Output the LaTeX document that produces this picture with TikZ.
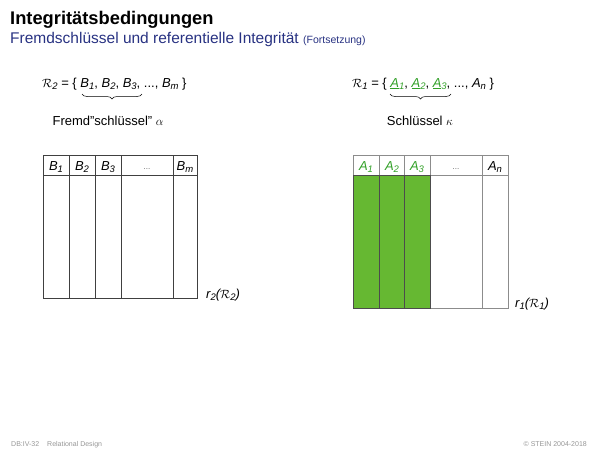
\documentclass[tikz,border=0pt]{standalone}
\usepackage{fontspec}
\setmainfont{Liberation Sans}
\usetikzlibrary{decorations.pathreplacing}
\definecolor{titleblue}{RGB}{40,50,130}
\definecolor{keyfill}{RGB}{102,184,50}
\definecolor{keytext}{RGB}{50,160,40}
\definecolor{footgray}{RGB}{150,150,150}
\newcommand\mysub[1]{\raisebox{-0.3ex}{\fontsize{9.5}{9.5}\selectfont\itshape #1}}
\newcommand\va[2]{{\itshape #1}\mysub{#2}}
\newcommand\ua[2]{\textcolor{keytext}{\underline{\itshape #1}\mysub{#2}}}
\begin{document}
\begin{tikzpicture}[x=1pt,y=-1pt,
  txt/.style={inner sep=0pt,anchor=base west,font=\fontsize{13}{15}\selectfont},
  hdr/.style={inner sep=0pt,anchor=base,font=\fontsize{13}{15}\selectfont},
  grid/.style={line width=0.7pt,draw=black!75},
  ggrid/.style={line width=0.8pt,draw=black!45},
  brc/.style={decorate,decoration={brace,mirror,amplitude=5pt},line width=0.5pt}]
\useasboundingbox (0,0) rectangle (600,450);
% titles
\node[inner sep=0pt,anchor=base west,font=\bfseries\fontsize{18.3}{21}\selectfont] (title) at (10,24.5) {Integritätsbedingungen};
\node[inner sep=0pt,anchor=base west,font=\fontsize{15.5}{18}\selectfont,text=titleblue] (sub) at (10,43) {Fremdschlüssel und referentielle Integrität {\fontsize{10.5}{12}\selectfont(Fortsetzung)}};
% left formula
\node[txt] (f2) at (42,87) {$\mathcal{R}$\mysub{2} = \{ \va{B}{1}, \va{B}{2}, \va{B}{3}, ..., \va{B}{m} \}};
\coordinate (b2a) at (82,94);
\coordinate (b2b) at (142,94);
\draw[brc] (b2a) -- (b2b);
\node[hdr] (fk) at (108,125) {Fremd"schlüssel" $\alpha$};
% right formula
\node[txt] (f1) at (352,87) {$\mathcal{R}$\mysub{1} = \{ \ua{A}{1}, \ua{A}{2}, \ua{A}{3}, ..., \va{A}{n} \}};
\coordinate (b1a) at (390,94);
\coordinate (b1b) at (451,94);
\draw[brc] (b1a) -- (b1b);
\node[hdr] (k) at (420,125) {Schlüssel $\kappa$};
% left table
\draw[grid] (43,155) rectangle (197,298);
\draw[grid] (43,175) -- (197,175);
\foreach \x in {69,95,121,173} \draw[grid] (\x,155) -- (\x,298);
\node[hdr] (h1) at (56,170) {\va{B}{1}};
\node[hdr] (h2) at (82,170) {\va{B}{2}};
\node[hdr] (h3) at (108,170) {\va{B}{3}};
\node[hdr,font=\fontsize{8}{9}\selectfont,text=black!60] (h4) at (147,169) {...};
\node[hdr] (h5) at (185,170) {\va{B}{m}};
\node[txt] (r2) at (206,298) {\va{r}{2}{\itshape(}$\mathcal{R}$\mysub{2}{\itshape)}};
% right table
\fill[keyfill] (353,175) rectangle (430,308);
\draw[ggrid] (353,155) rectangle (508,308);
\draw[ggrid] (353,175) -- (508,175);
\foreach \x in {430,482} \draw[ggrid] (\x,155) -- (\x,308);
\foreach \x in {379,404} \draw[ggrid] (\x,155) -- (\x,175);
\draw[line width=0.8pt,draw=black!70] (353,175) rectangle (430,308);
\foreach \x in {379,404} \draw[line width=0.8pt,draw=black!70] (\x,175) -- (\x,308);
\node[hdr,text=keytext] (a1) at (366,170) {\va{A}{1}};
\node[hdr,text=keytext] (a2) at (392,170) {\va{A}{2}};
\node[hdr,text=keytext] (a3) at (417,170) {\va{A}{3}};
\node[hdr,font=\fontsize{8}{9}\selectfont,text=black!60] (a4) at (456,169) {...};
\node[hdr] (a5) at (495,170) {\va{A}{n}};
\node[txt] (r1) at (515,307) {\va{r}{1}{\itshape(}$\mathcal{R}$\mysub{1}{\itshape)}};
% footer
\node[inner sep=0pt,anchor=base west,font=\fontsize{7}{8}\selectfont,text=footgray] (fl) at (11,446) {DB:IV-32\hspace{8pt}Relational Design};
\node[inner sep=0pt,anchor=base east,font=\fontsize{7}{8}\selectfont,text=footgray] (fr) at (587,446) {© STEIN 2004-2018};
\end{tikzpicture}
\end{document}
